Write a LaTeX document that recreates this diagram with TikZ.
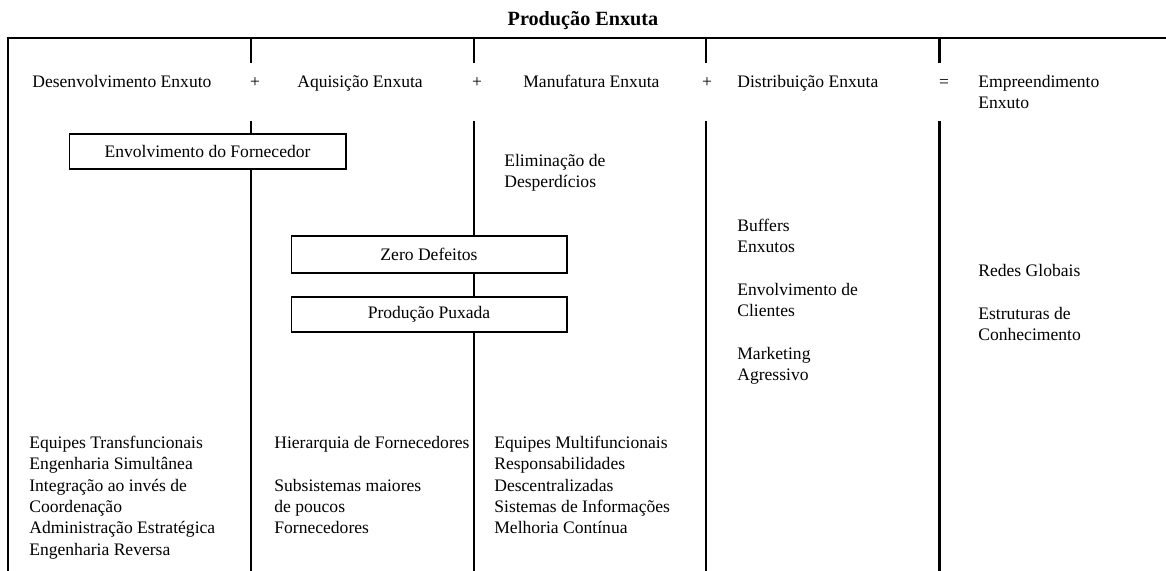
\documentclass[tikz,border=0pt]{standalone}
\usepackage{fontspec}
\setmainfont{Liberation Serif}
\begin{document}
\begin{tikzpicture}[x=0.02cm,y=-0.02cm,
    txt/.style={inner sep=0pt,font=\fontsize{10}{12.1}\selectfont},
    head/.style={txt,anchor=west,text height=6.8pt,text depth=2.2pt},
    lista/.style={txt,align=left,anchor=north west},
    caixa/.style={txt,draw,fill=white,line width=0.6pt,minimum width=5.52cm},
    linha/.style={line width=0.6pt},
    grossa/.style={line width=1.7pt}]
    \useasboundingbox (0,0) rectangle (1166,571);
    % Title
    \node[txt,font=\fontsize{11.5}{13}\selectfont\bfseries] (T) at (583,21) {Produção Enxuta};
    % Frame
    \draw[linha] (8,571) -- (8,38) -- (1166,38);
    % Separators
    \draw[linha] (251,38) -- (251,63);
    \draw[linha] (251,121) -- (251,571);
    \draw[linha] (474,38) -- (474,63);
    \draw[linha] (474,121) -- (474,571);
    \draw[linha] (706,38) -- (706,63);
    \draw[linha] (706,121) -- (706,571);
    \draw[grossa] (939,38) -- (939,63);
    \draw[grossa] (939,121) -- (939,571);
    % Header
    \node[head] (H1) at (32,83) {Desenvolvimento Enxuto};
    \node[txt] (P1) at (255,83) {+};
    \node[head] (H2) at (297,83) {Aquisição Enxuta};
    \node[txt] (P2) at (477,83) {+};
    \node[head] (H3) at (523,83) {Manufatura Enxuta};
    \node[txt] (P3) at (707,83) {+};
    \node[head] (H4) at (737,83) {Distribuição Enxuta};
    \node[txt] (Q) at (944,83) {=};
    \node[lista] (H5) at (978,75) {Empreendimento\\Enxuto};
    % Boxes
    \node[caixa,minimum width=5.54cm,minimum height=0.7cm] (B1) at (207.5,151.5) {Envolvimento do Fornecedor};
    \node[caixa,minimum height=0.74cm] (B2) at (429,254.5) {Zero Defeitos};
    \node[caixa,minimum height=0.7cm] (B3) at (429,314.5) {Produção Puxada};
    % Lists
    \node[lista] (E1) at (504,154) {Eliminação de\\Desperdícios};
    \node[lista] (D1) at (737,219) {Buffers\\Enxutos\\[12.1pt]Envolvimento de\\Clientes\\[12.1pt]Marketing\\Agressivo};
    \node[lista] (R1) at (978,264) {Redes Globais\\[12.1pt]Estruturas de\\Conhecimento};
    \node[lista] (L1) at (29,436) {Equipes Transfuncionais\\Engenharia Simultânea\\Integração ao invés de\\Coordenação\\Administração Estratégica\\Engenharia Reversa};
    \node[lista] (L2) at (274,436) {Hierarquia de Fornecedores\\[12.1pt]Subsistemas maiores\\de poucos\\Fornecedores};
    \node[lista] (L3) at (494,436) {Equipes Multifuncionais\\Responsabilidades\\Descentralizadas\\Sistemas de Informações\\Melhoria Contínua};
\end{tikzpicture}
\end{document}
